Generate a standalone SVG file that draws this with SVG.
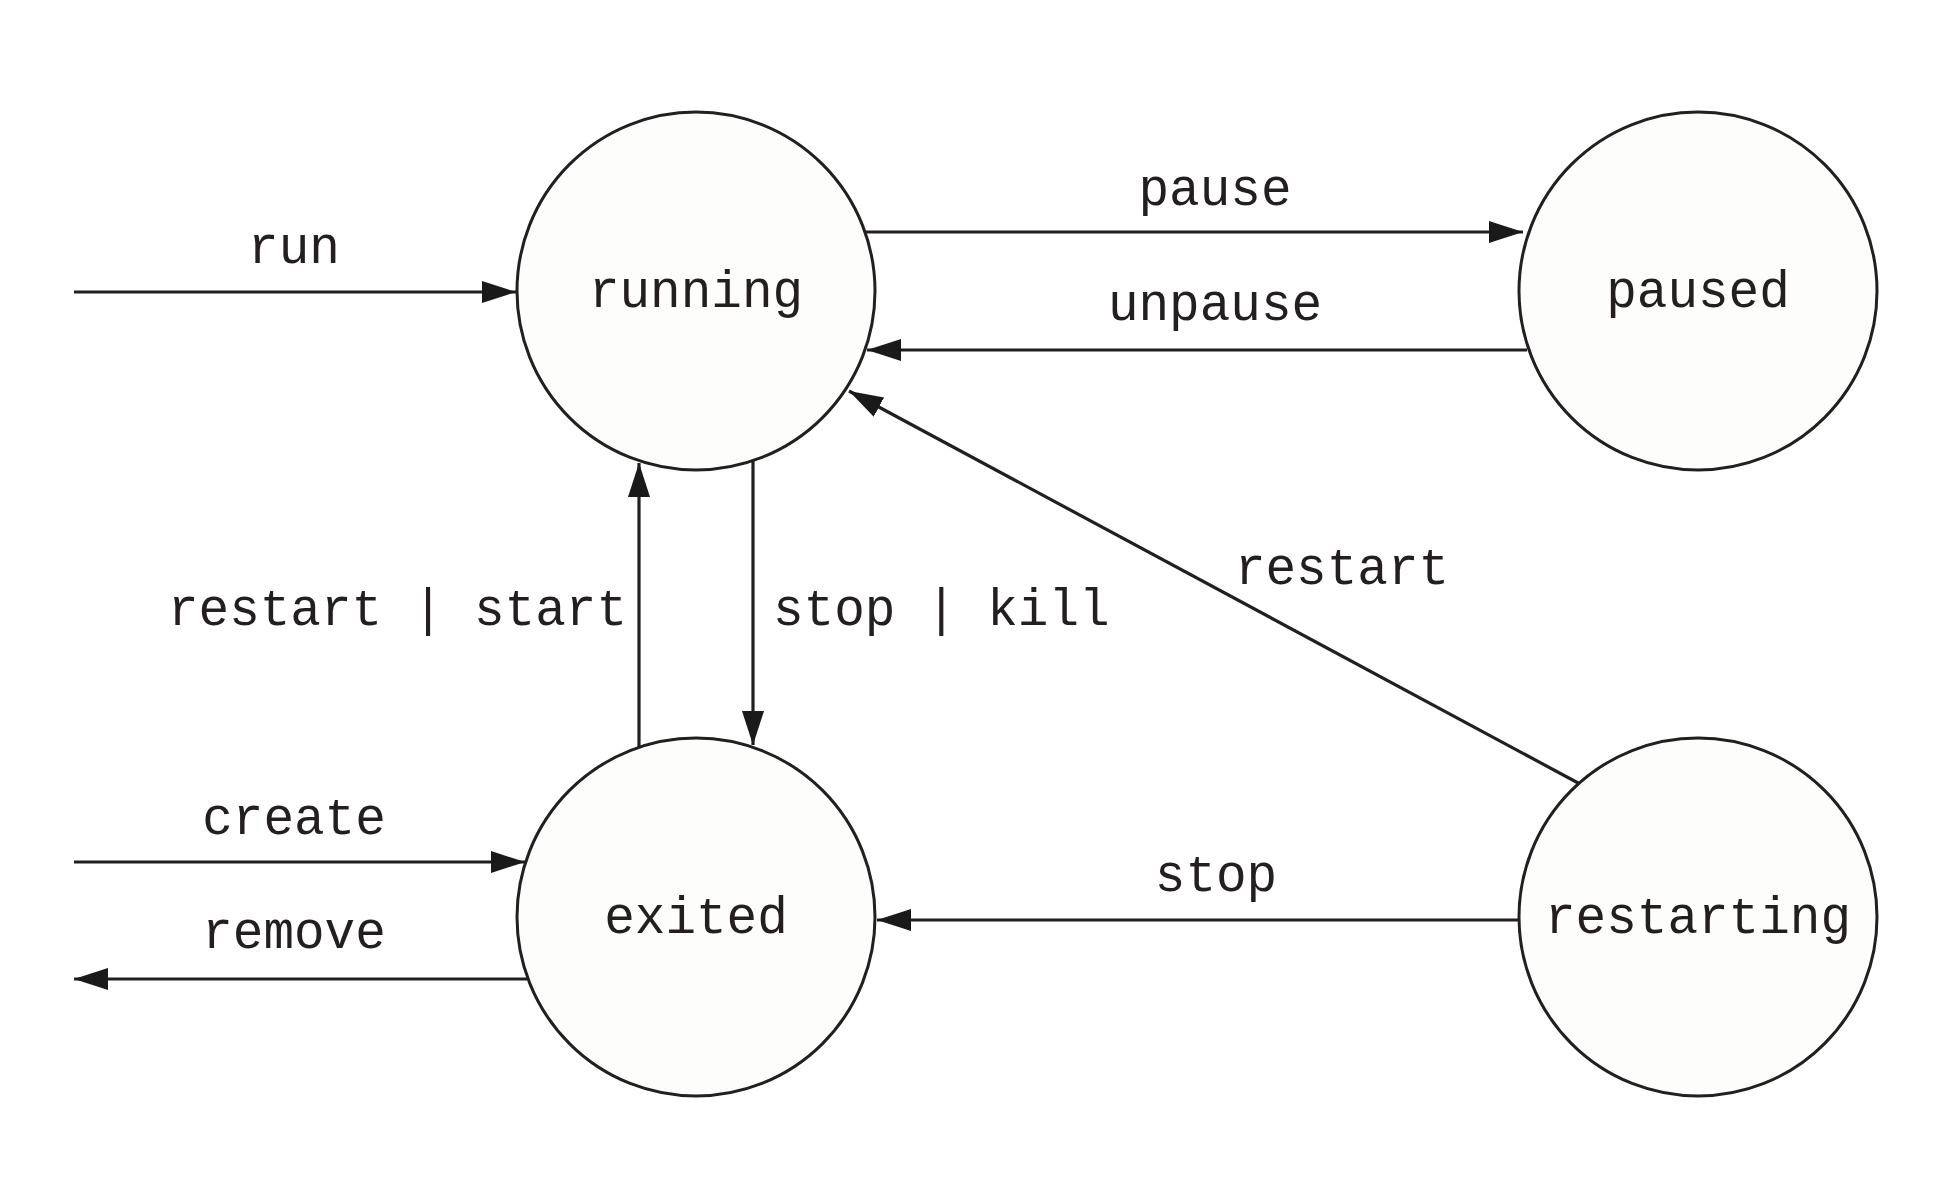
<svg xmlns="http://www.w3.org/2000/svg" width="1946" height="1190" viewBox="0 0 1946 1190">
<defs>
<style>
.node circle{fill:#fdfdfb;stroke:#231f20;stroke-width:3}
text{font-family:"Liberation Mono","Courier New",monospace;font-size:51px;fill:#231f20}
.c{text-anchor:middle}
.edges line{stroke:#231f20;stroke-width:3.2;fill:none;marker-end:url(#ah)}
</style>
<marker id="ah" markerUnits="userSpaceOnUse" markerWidth="36" markerHeight="24" refX="34" refY="11" orient="auto">
<path d="M0,0 L34,11 L0,22 z" fill="#1a1a1a"/>
</marker>
</defs>
<rect width="1946" height="1190" fill="#ffffff"/>
<g class="edges" id="connectors">
<line x1="74" y1="292" x2="516" y2="292"/>
<line x1="865" y1="232" x2="1523" y2="232"/>
<line x1="1527" y1="350" x2="867" y2="350"/>
<line x1="1580" y1="784" x2="849" y2="391"/>
<line x1="639" y1="747" x2="639" y2="463"/>
<line x1="753" y1="461" x2="753" y2="745"/>
<line x1="74" y1="862" x2="525" y2="862"/>
<line x1="527" y1="979" x2="74" y2="979"/>
<line x1="1519" y1="920" x2="877" y2="920"/>
</g>
<g id="edge-labels">
<text class="c" x="294" y="263">run</text>
<text class="c" x="1215" y="205">pause</text>
<text class="c" x="1215" y="320">unpause</text>
<text class="c" x="1342" y="584">restart</text>
<text x="627" y="625" text-anchor="end">restart | start</text>
<text x="773" y="625">stop | kill</text>
<text class="c" x="294" y="834">create</text>
<text class="c" x="294" y="948">remove</text>
<text class="c" x="1216" y="891">stop</text>
</g>
<g class="node" id="running"><circle cx="696" cy="291" r="179"/><text class="c" x="696" y="307">running</text></g>
<g class="node" id="paused"><circle cx="1698" cy="291" r="179"/><text class="c" x="1698" y="307">paused</text></g>
<g class="node" id="exited"><circle cx="696" cy="917" r="179"/><text class="c" x="696" y="933">exited</text></g>
<g class="node" id="restarting"><circle cx="1698" cy="917" r="179"/><text class="c" x="1698" y="933">restarting</text></g>
</svg>
